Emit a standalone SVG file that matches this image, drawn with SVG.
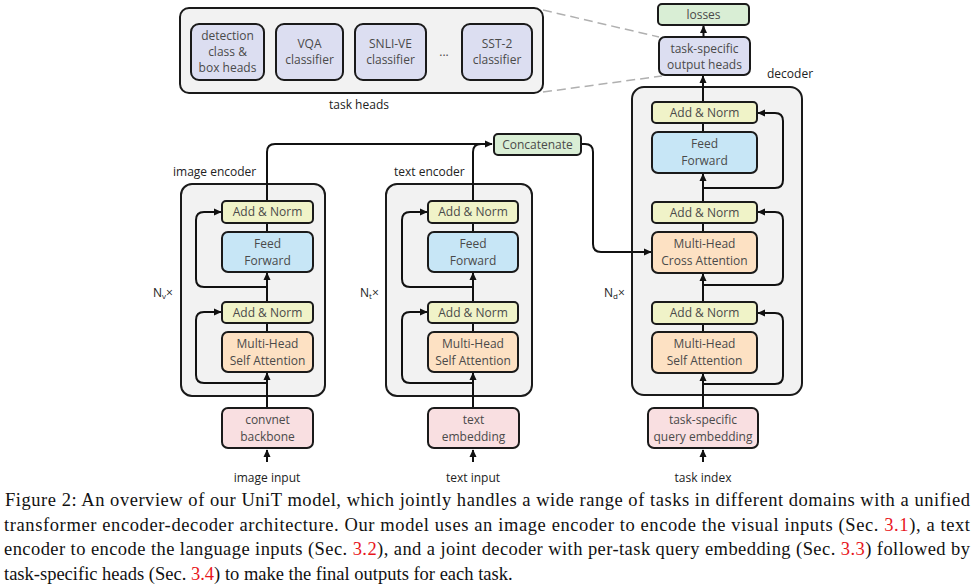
<svg xmlns="http://www.w3.org/2000/svg" width="975" height="587" viewBox="0 0 975 587">
<style>
text{font-family:"Open Sans","Noto Sans",sans-serif;font-size:12px;fill:#4a4a4a;text-anchor:middle}
.lbl{fill:#222}
.cont{fill:#f2f2f2;stroke:#1a1a1a;stroke-width:2}
.b{stroke:#1a1a1a;stroke-width:2}
.an{fill:#f0f3c8}
.ff{fill:#c7e6f6}
.at{fill:#fde1c3}
.em{fill:#f9dfe1}
.hd{fill:#dcdef1}
.gr{fill:#d9eed5}
.c{fill:none;stroke:#111;stroke-width:2}
.arr{marker-end:url(#ah)}
.dash{fill:none;stroke:#b0b0b0;stroke-width:1.5;stroke-dasharray:9 5}
.cap{font-family:"Liberation Serif","Times New Roman",serif;font-size:18.5px;fill:#111;text-anchor:start}
.red{fill:#e8161b}
</style>
<defs>
<marker id="ah" viewBox="0 0 10 10" refX="9" refY="5" markerWidth="8" markerHeight="8" markerUnits="userSpaceOnUse" orient="auto">
<path d="M0,0.5 L10,5 L0,9.5 z" fill="#111"/>
</marker>
</defs>

<!-- task heads -->
<g id="task-heads">
<rect class="cont" x="180" y="8" width="363" height="85" rx="9"/>
<text class="lbl" x="359" y="109">task heads</text>
</g>
<g id="det-head"><rect class="b hd" x="191" y="24" width="73" height="56" rx="8"/>
<text x="227.5" y="40">detection</text><text x="227.5" y="56">class &amp;</text><text x="227.5" y="72">box heads</text></g>
<g id="vqa-head"><rect class="b hd" x="276" y="24" width="67" height="56" rx="8"/>
<text x="309.5" y="48">VQA</text><text x="309.5" y="64">classifier</text></g>
<g id="snli-head"><rect class="b hd" x="355" y="24" width="71" height="56" rx="8"/>
<text x="390.5" y="48">SNLI-VE</text><text x="390.5" y="64">classifier</text></g>
<text x="444" y="56">...</text>
<g id="sst-head"><rect class="b hd" x="462" y="24" width="70" height="56" rx="8"/>
<text x="497" y="48">SST-2</text><text x="497" y="64">classifier</text></g>

<!-- top outputs -->
<g id="losses"><rect class="b gr" x="658" y="4" width="91" height="21" rx="4"/>
<text x="703.5" y="19">losses</text></g>
<g id="output-heads"><rect class="b hd" x="659" y="37" width="91" height="38" rx="6"/>
<text x="704.5" y="53">task-specific</text><text x="704.5" y="69">output heads</text></g>

<!-- containers -->
<g id="image-encoder">
<rect class="cont" x="181" y="184" width="144" height="212" rx="11"/>
<text class="lbl" x="173" y="176" style="text-anchor:start">image encoder</text>
<text class="lbl" x="153" y="297" style="text-anchor:start">N<tspan font-size="8" dy="2">v</tspan><tspan dy="-2">×</tspan></text>
</g>
<g id="text-encoder">
<rect class="cont" x="386" y="184" width="146" height="212" rx="11"/>
<text class="lbl" x="394" y="176" style="text-anchor:start">text encoder</text>
<text class="lbl" x="360" y="297" style="text-anchor:start">N<tspan font-size="8" dy="2">t</tspan><tspan dy="-2">×</tspan></text>
</g>
<g id="decoder">
<rect class="cont" x="632" y="87" width="170" height="308" rx="12"/>
<text class="lbl" x="767" y="78" style="text-anchor:start">decoder</text>
<text class="lbl" x="604" y="297" style="text-anchor:start">N<tspan font-size="8" dy="2">d</tspan><tspan dy="-2">×</tspan></text>
</g>

<!-- connectors -->
<g id="connectors">
<path class="dash" d="M543,10 L659,37"/>
<path class="dash" d="M543,92 L662,76"/>
<path class="c arr" d="M703.5,37 V26"/>
<path class="c arr" d="M703,102 V76"/>
<!-- image encoder -->
<path class="c arr" d="M267,462 V450"/>
<path class="c arr" d="M267,408 V373"/>
<path class="c" d="M267,332 V323"/>
<path class="c arr" d="M267,302 V273"/>
<path class="c" d="M267,232 V223"/>
<path class="c arr" d="M267,383 H204 Q196,383 196,375 V320 Q196,312 204,312 H221"/>
<path class="c arr" d="M267,287 H204 Q196,287 196,279 V220 Q196,212 204,212 H221"/>
<path class="c arr" d="M267,201 V152 Q267,144 275,144 H492"/>
<!-- text encoder -->
<path class="c arr" d="M473,462 V450"/>
<path class="c arr" d="M473,408 V373"/>
<path class="c" d="M473,332 V323"/>
<path class="c arr" d="M473,302 V273"/>
<path class="c" d="M473,232 V223"/>
<path class="c arr" d="M473,383 H410 Q402,383 402,375 V320 Q402,312 410,312 H427"/>
<path class="c arr" d="M473,287 H410 Q402,287 402,279 V220 Q402,212 410,212 H427"/>
<path class="c" d="M473,201 V152 Q473,144 481,144"/>
<path class="c arr" d="M581,144 H585 Q593,144 593,152 V244 Q593,252 601,252 H651"/>
<!-- decoder -->
<path class="c arr" d="M703,462 V450"/>
<path class="c arr" d="M703,408 V374"/>
<path class="c" d="M703,332 V324"/>
<path class="c arr" d="M703,302 V274"/>
<path class="c" d="M703,232 V223"/>
<path class="c arr" d="M703,202 V174"/>
<path class="c" d="M703,132 V123"/>
<path class="c arr" d="M703,384 H775 Q783,384 783,376 V321 Q783,313 775,313 H758"/>
<path class="c arr" d="M703,285 H775 Q783,285 783,277 V220 Q783,212 775,212 H758"/>
<path class="c arr" d="M703,188 H775 Q783,188 783,180 V121 Q783,113 775,113 H758"/>
</g>

<!-- image encoder nodes -->
<g id="img-addnorm2"><rect class="b an" x="222" y="201" width="91" height="22" rx="4"/><text x="267.5" y="216">Add &amp; Norm</text></g>
<g id="img-ff"><rect class="b ff" x="222" y="232" width="91" height="40" rx="6"/><text x="267.5" y="248">Feed</text><text x="267.5" y="265">Forward</text></g>
<g id="img-addnorm1"><rect class="b an" x="222" y="302" width="91" height="21" rx="4"/><text x="267.5" y="317">Add &amp; Norm</text></g>
<g id="img-attn"><rect class="b at" x="222" y="332" width="91" height="40" rx="6"/><text x="267.5" y="348">Multi-Head</text><text x="267.5" y="365">Self Attention</text></g>
<g id="convnet"><rect class="b em" x="222" y="408" width="91" height="40" rx="6"/><text x="267.5" y="424">convnet</text><text x="267.5" y="441">backbone</text></g>
<text class="lbl" x="267" y="482">image input</text>

<!-- text encoder nodes -->
<g id="txt-addnorm2"><rect class="b an" x="428" y="201" width="90" height="22" rx="4"/><text x="473" y="216">Add &amp; Norm</text></g>
<g id="txt-ff"><rect class="b ff" x="428" y="232" width="90" height="40" rx="6"/><text x="473" y="248">Feed</text><text x="473" y="265">Forward</text></g>
<g id="txt-addnorm1"><rect class="b an" x="428" y="302" width="90" height="21" rx="4"/><text x="473" y="317">Add &amp; Norm</text></g>
<g id="txt-attn"><rect class="b at" x="428" y="332" width="90" height="40" rx="6"/><text x="473" y="348">Multi-Head</text><text x="473" y="365">Self Attention</text></g>
<g id="text-embedding"><rect class="b em" x="428" y="408" width="91" height="40" rx="6"/><text x="473.5" y="424">text</text><text x="473.5" y="441">embedding</text></g>
<text class="lbl" x="473" y="482">text input</text>

<g id="concatenate"><rect class="b gr" x="494" y="134" width="87" height="21" rx="4"/><text x="537.5" y="149">Concatenate</text></g>

<!-- decoder nodes -->
<g id="dec-addnorm3"><rect class="b an" x="652" y="102" width="105" height="21" rx="4"/><text x="704.5" y="117">Add &amp; Norm</text></g>
<g id="dec-ff"><rect class="b ff" x="652" y="132" width="105" height="41" rx="6"/><text x="704.5" y="148">Feed</text><text x="704.5" y="165">Forward</text></g>
<g id="dec-addnorm2"><rect class="b an" x="652" y="202" width="105" height="21" rx="4"/><text x="704.5" y="217">Add &amp; Norm</text></g>
<g id="dec-cross"><rect class="b at" x="652" y="232" width="105" height="41" rx="6"/><text x="704.5" y="248">Multi-Head</text><text x="704.5" y="265">Cross Attention</text></g>
<g id="dec-addnorm1"><rect class="b an" x="652" y="302" width="105" height="22" rx="4"/><text x="704.5" y="317">Add &amp; Norm</text></g>
<g id="dec-attn"><rect class="b at" x="652" y="332" width="105" height="41" rx="6"/><text x="704.5" y="348">Multi-Head</text><text x="704.5" y="365">Self Attention</text></g>
<g id="query-embedding"><rect class="b em" x="648" y="408" width="110" height="40" rx="6"/><text x="703" y="424">task-specific</text><text x="703" y="441">query embedding</text></g>
<text class="lbl" x="703" y="482">task index</text>

<!-- caption -->
<g id="caption">
<text class="cap" x="5" y="506" textLength="965" lengthAdjust="spacing">Figure 2: An overview of our UniT model, which jointly handles a wide range of tasks in different domains with a unified</text>
<text class="cap" x="4" y="531" textLength="966" lengthAdjust="spacing">transformer encoder-decoder architecture. Our model uses an image encoder to encode the visual inputs (Sec. <tspan class="red">3.1</tspan>), a text</text>
<text class="cap" x="4" y="555" textLength="966" lengthAdjust="spacing">encoder to encode the language inputs (Sec. <tspan class="red">3.2</tspan>), and a joint decoder with per-task query embedding (Sec. <tspan class="red">3.3</tspan>) followed by</text>
<text class="cap" x="4" y="580">task-specific heads (Sec. <tspan class="red">3.4</tspan>) to make the final outputs for each task.</text>
</g>
</svg>
